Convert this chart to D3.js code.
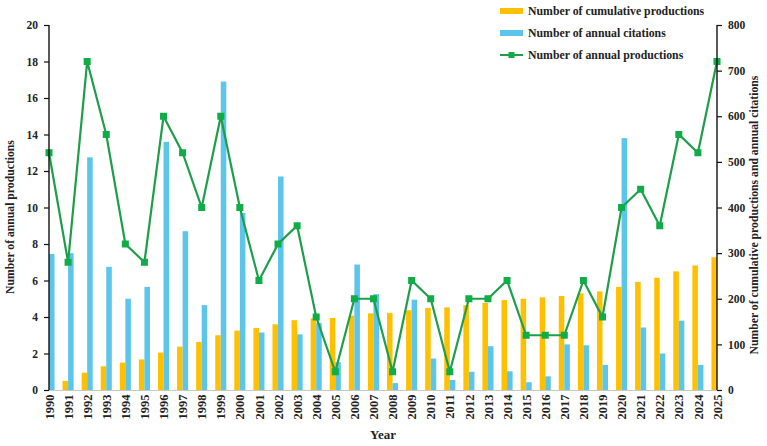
<!DOCTYPE html>
<html>
<head>
<meta charset="utf-8">
<script src="https://cdn.jsdelivr.net/npm/d3@7"></script>
<style>
body{margin:0;background:#fff;}
svg text{font-family:"Liberation Serif","Times New Roman",serif;font-weight:bold;fill:#222;}
</style>
</head>
<body>
<svg id="chart" width="767" height="446"></svg>
<script>
const years = ["1990","1991","1992","1993","1994","1995","1996","1997","1998","1999","2000","2001","2002","2003","2004","2005","2006","2007","2008","2009","2010","2011","2012","2013","2014","2015","2016","2017","2018","2019","2020","2021","2022","2023","2024","2025"];
const annualProductions = [13,7,18,14,8,7,15,13,10,15,10,6,8,9,4,1,5,5,1,6,5,1,5,5,6,3,3,3,6,4,10,11,9,14,13,18];
const cumulativeProductions = [13,20,38,52,60,67,82,95,105,120,130,136,144,153,157,158,163,168,169,175,180,181,186,191,197,200,203,206,212,216,226,237,246,260,273,291];
const annualCitations = [298,300,510,270,200,226,544,348,186,676,388,126,468,122,147,61,275,210,15,198,69,22,40,96,41,17,30,100,98,55,552,137,80,152,55,30];
const leftTicks = [0,2,4,6,8,10,12,14,16,18,20];
const rightTicks = [0,100,200,300,400,500,600,700,800];
const legendLabels = ["Number of cumulative productions","Number of annual citations","Number of annual productions"];

(function(){
const colOrange = "#FFC000", colBlue = "#5BC5EA", colGreen = "#1E9E4A", colMarker = "#10AC48";
const svg = d3.select("#chart");
const L = 49, R = 717, T = 25, B = 390;

const x = d3.scalePoint().domain(years).range([L, R]).padding(0);
const step = x.step();
const bw = step * 0.29;
const yL = d3.scaleLinear().domain([0,20]).range([B, T]);
const yR = d3.scaleLinear().domain([0,800]).range([B, T]);

svg.append("defs").append("clipPath").attr("id","plot")
  .append("rect").attr("x", L).attr("y", 0).attr("width", R-L).attr("height", B+1);

svg.append("line").attr("x1",L).attr("x2",R).attr("y1",B+0.5).attr("y2",B+0.5)
  .attr("stroke","#c8c8c8").attr("stroke-width",1);

const bars = svg.append("g").attr("clip-path","url(#plot)");
bars.selectAll("rect.cum").data(years).enter().append("rect").attr("class","cum")
  .attr("x", d => x(d) - bw).attr("width", bw)
  .attr("y", (d,i) => yR(cumulativeProductions[i])).attr("height", (d,i) => B - yR(cumulativeProductions[i]))
  .attr("fill", colOrange);
bars.selectAll("rect.cit").data(years).enter().append("rect").attr("class","cit")
  .attr("x", d => x(d)).attr("width", bw)
  .attr("y", (d,i) => yR(annualCitations[i])).attr("height", (d,i) => B - yR(annualCitations[i]))
  .attr("fill", colBlue);

const line = d3.line().x((d,i) => x(years[i])).y(d => yL(d));
svg.append("path").datum(annualProductions).attr("d", line)
  .attr("fill","none").attr("stroke", colGreen).attr("stroke-width", 2.2);
svg.selectAll("rect.mk").data(annualProductions).enter().append("rect").attr("class","mk")
  .attr("x", (d,i) => x(years[i]) - 3.5).attr("y", d => yL(d) - 3.5)
  .attr("width", 7).attr("height", 7).attr("fill", colMarker);

const axL = svg.append("g").attr("transform", `translate(${L},0)`)
  .call(d3.axisLeft(yL).tickValues(leftTicks).tickSize(5).tickPadding(6));
const axR = svg.append("g").attr("transform", `translate(${R},0)`)
  .call(d3.axisRight(yR).tickValues(rightTicks).tickSize(5).tickPadding(6));
[axL, axR].forEach(a => {
  a.select(".domain").attr("stroke","#111").attr("stroke-width",1.4).attr("d", `M0,${T}V${B}`);
  a.selectAll(".tick line").attr("stroke","#111").attr("stroke-width",1.2);
  a.selectAll(".tick text").attr("font-size", 11.5).attr("font-family","Liberation Serif").attr("font-weight","bold").attr("fill","#222");
});

const axB = svg.append("g").attr("transform", `translate(0,${B})`)
  .call(d3.axisBottom(x).tickSize(0).tickPadding(4));
axB.select(".domain").remove();
axB.selectAll(".tick text")
  .attr("font-size", 12.5).attr("font-family","Liberation Serif").attr("font-weight","bold").attr("fill","#222")
  .attr("transform","rotate(-90)").attr("text-anchor","end").attr("dx","-0.35em").attr("dy","0.33em").attr("x",0).attr("y",0);

svg.append("text").attr("x", 383).attr("y", 439).attr("text-anchor","middle").attr("font-size",13).text("Year");
svg.append("text").attr("transform","translate(14,217) rotate(-90)").attr("text-anchor","middle").attr("font-size",11.7).text("Number of annual productions");
svg.append("text").attr("transform","translate(758,215) rotate(-90)").attr("text-anchor","middle").attr("font-size",11.7).text("Number of cumulative productions and annual citations");

const lg = svg.append("g");
const ly = [11, 33, 55];
lg.append("rect").attr("x",500).attr("y",ly[0]-3).attr("width",23).attr("height",6).attr("fill",colOrange);
lg.append("rect").attr("x",500).attr("y",ly[1]-3).attr("width",23).attr("height",6).attr("fill",colBlue);
lg.append("line").attr("x1",500).attr("x2",523).attr("y1",ly[2]).attr("y2",ly[2]).attr("stroke",colGreen).attr("stroke-width",2);
lg.append("rect").attr("x",508.5).attr("y",ly[2]-3).attr("width",6).attr("height",6).attr("fill",colMarker);
legendLabels.forEach((t,i) => {
  lg.append("text").attr("x",528).attr("y",ly[i]+4).attr("font-size",11.8).text(t);
});
})();
</script>
</body>
</html>
